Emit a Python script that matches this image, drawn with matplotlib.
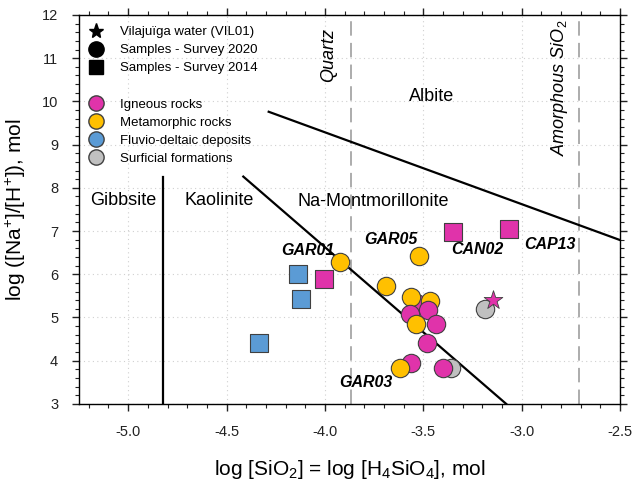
import matplotlib
matplotlib.use("Agg")
import matplotlib.pyplot as plt
from matplotlib.lines import Line2D
from matplotlib.ticker import MultipleLocator

plt.rcParams['font.family'] = ['Liberation Sans', 'DejaVu Sans']
plt.rcParams['mathtext.fontset'] = 'custom'
plt.rcParams['mathtext.rm'] = 'Liberation Sans'
plt.rcParams['mathtext.it'] = 'Liberation Sans:italic'

# samples: x = log SiO2, y = log(Na/H), drawn back to front
smp_x = [-4.138, -4.121, -4.333, -4.007, -3.349, -3.065,
         -3.926, -3.523, -3.688,
         -3.362, -3.400, -3.187,
         -3.535, -3.561, -3.468, -3.476, -3.569, -3.535, -3.437,
         -3.484, -3.561, -3.617]
smp_y = [6.00, 5.42, 4.42, 5.89, 6.98, 7.04,
         6.28, 6.43, 5.73,
         3.84, 3.84, 5.19,
         5.33, 5.48, 5.39, 5.17, 5.09, 4.86, 4.86,
         4.40, 3.95, 3.82]
smp_group = ['fluv', 'fluv', 'fluv', 'ign', 'ign', 'ign',
             'meta', 'meta', 'meta',
             'surf', 'ign', 'surf',
             'ign', 'meta', 'meta', 'ign', 'ign', 'meta', 'ign',
             'ign', 'ign', 'meta']
smp_survey = ['2014', '2014', '2014', '2014', '2014', '2014',
              '2020', '2020', '2020',
              '2020', '2020', '2020',
              '2020', '2020', '2020', '2020', '2020', '2020', '2020',
              '2020', '2020', '2020']

# Vilajuiga water
vil_x = [-3.145]
vil_y = [5.40]

# sample names
lab_txt = ['GAR01', 'GAR05', 'CAN02', 'CAP13', 'GAR03']
lab_x = [-4.22, -3.80, -3.357, -2.989, -3.929]
lab_y = [6.56, 6.81, 6.58, 6.68, 3.49]

# stability field boundaries
gib_kao_x = [-4.823, -4.823]
gib_kao_y = [3.0, 8.26]
kao_mont_x = [-4.415, -3.079]
kao_mont_y = [8.26, 3.0]
mont_alb_x = [-4.286, -2.5]
mont_alb_y = [9.76, 6.79]
quartz_x = -3.869
amorph_x = -2.708

# field names
fld_txt = ['Gibbsite', 'Kaolinite', 'Na-Montmorillonite', 'Albite']
fld_x = [-5.027, -4.535, -3.753, -3.459]
fld_y = [7.70, 7.70, 7.68, 10.11]

colors = {'ign': '#E033AA', 'meta': '#FFC000', 'fluv': '#5B9BD5', 'surf': '#C0C0C0'}
markers = {'2020': 'o', '2014': 's'}
edge = '#404040'

fig = plt.figure(figsize=(6.42, 4.82), dpi=100)
ax = fig.add_axes([0.123, 0.162, 0.843, 0.807])

ax.set_xlim(-5.25, -2.5)
ax.set_ylim(3, 12)
ax.xaxis.set_major_locator(MultipleLocator(0.5))
ax.xaxis.set_minor_locator(MultipleLocator(0.1))
ax.yaxis.set_major_locator(MultipleLocator(1))
ax.yaxis.set_minor_locator(MultipleLocator(0.2))
ax.tick_params(which='both', direction='out', top=True, right=True,
               labelsize=10.5, colors='#222222', pad=10)
ax.tick_params(which='major', length=5, width=1)
ax.tick_params(which='minor', length=3, width=0.8)
ax.xaxis.set_major_formatter(matplotlib.ticker.FormatStrFormatter('%.1f'))
for s in ax.spines.values():
    s.set_linewidth(1)
ax.grid(True, which='major', color='#D0D0D0', linestyle=(0, (1, 3)), linewidth=0.8)
ax.set_axisbelow(True)

# boundaries
ax.plot(gib_kao_x, gib_kao_y, color='black', lw=1.6, zorder=2)
ax.plot(kao_mont_x, kao_mont_y, color='black', lw=1.6, zorder=2)
ax.plot(mont_alb_x, mont_alb_y, color='black', lw=1.6, zorder=2)
ax.axvline(quartz_x, color='#A6A6A6', lw=1.3, ls=(0, (8, 4)), zorder=1)
ax.axvline(amorph_x, color='#A6A6A6', lw=1.3, ls=(0, (8, 4)), zorder=1)

for t, x, y in zip(fld_txt, fld_x, fld_y):
    ax.text(x, y, t, ha='center', va='center', fontsize=13)
ax.text(-3.98, 11.07, 'Quartz', rotation=90, ha='center', va='center',
        fontsize=13, style='italic')
ax.text(-2.81, 10.31, r'Amorphous SiO$_2$', rotation=90, ha='center', va='center',
        fontsize=13, style='italic')

# samples
for i in range(len(smp_x)):
    ax.scatter(smp_x[i], smp_y[i], s=175 if smp_survey[i] == '2020' else 150,
               marker=markers[smp_survey[i]], c=colors[smp_group[i]],
               edgecolors=edge, linewidths=0.8, zorder=3 + i)
ax.scatter(vil_x, vil_y, s=200, marker='*', c=colors['ign'],
           edgecolors=edge, linewidths=0.6, zorder=40)

for t, x, y in zip(lab_txt, lab_x, lab_y):
    ax.text(x, y, t, ha='left', va='center', fontsize=11.5,
            fontweight='bold', style='italic', zorder=50)

# legend
handles = [
    Line2D([], [], ls='', marker='*', color='black', ms=11),
    Line2D([], [], ls='', marker='o', color='black', ms=11),
    Line2D([], [], ls='', marker='s', color='black', ms=10),
    Line2D([], [], ls='', marker=''),
    Line2D([], [], ls='', marker='o', mfc=colors['ign'], mec=edge, ms=11),
    Line2D([], [], ls='', marker='o', mfc=colors['meta'], mec=edge, ms=11),
    Line2D([], [], ls='', marker='o', mfc=colors['fluv'], mec=edge, ms=11),
    Line2D([], [], ls='', marker='o', mfc=colors['surf'], mec=edge, ms=11),
]
labels = ['Vilajuïga water (VIL01)', 'Samples - Survey 2020', 'Samples - Survey 2014', ' ',
          'Igneous rocks', 'Metamorphic rocks', 'Fluvio-deltaic deposits',
          'Surficial formations']
ax.legend(handles, labels, loc='upper left', bbox_to_anchor=(0.0, 0.995),
          frameon=False, fontsize=9.5, handlelength=1.2, handletextpad=1.2,
          labelspacing=0.44, borderaxespad=0.3)

ax.set_xlabel(r'log [SiO$_2$] = log [H$_4$SiO$_4$], mol', fontsize=15, labelpad=14)
ax.set_ylabel(r'log ([Na$^{+}$]/[H$^{+}$]), mol', fontsize=15, labelpad=10)

fig.savefig('out.png', dpi=100)
